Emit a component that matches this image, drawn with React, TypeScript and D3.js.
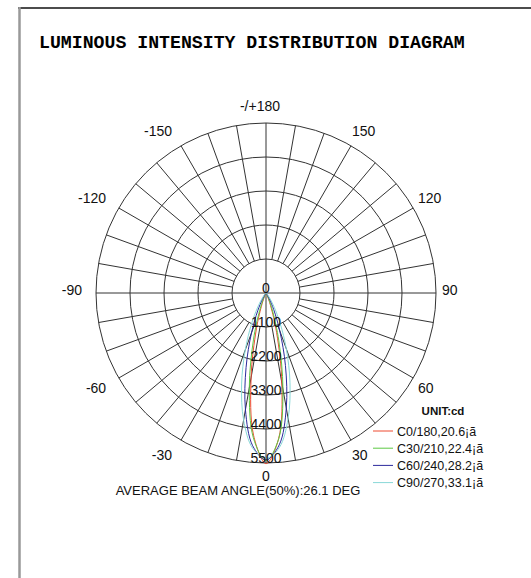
import React from 'react';
import * as d3 from 'd3';

// chart size
const width = 531;
const height = 578;
const cx = 266;
const cy = 293;
const outerR = 170;

// gamma angles (deg), negative = C180.. side (left), positive = C0.. side (right)
const gammas = [-50, -45, -40, -35, -30, -25, -20, -15, -10, -5, 0, 5, 10, 15, 20, 25, 30, 35, 40, 45, 50];

// candela values
const c0 = [0, 0, 0, 2, 12, 80, 370, 1200, 2780, 4620, 5520, 4720, 2950, 1330, 430, 100, 18, 3, 0, 0, 0];
const c30 = [0, 0, 2, 8, 40, 175, 600, 1570, 3110, 4700, 5430, 4730, 3150, 1600, 620, 185, 42, 8, 2, 0, 0];
const c60 = [0, 5, 22, 80, 245, 630, 1370, 2490, 3830, 4960, 5400, 4930, 3780, 2430, 1300, 590, 225, 72, 19, 4, 0];
const c90 = [12, 35, 100, 250, 560, 1120, 1960, 3050, 4170, 5030, 5350, 5010, 4120, 3000, 1920, 1080, 535, 235, 92, 30, 10];

const seriesNames = ['C0/180,20.6¡ã', 'C30/210,22.4¡ã', 'C60/240,28.2¡ã', 'C90/270,33.1¡ã'];
const seriesColors = ['#ee4a30', '#5cc843', '#2c2a9c', '#88d8d8'];
const seriesValues = [c0, c30, c60, c90];

const ringValues = [1100, 2200, 3300, 4400, 5500];
const angleLabels = [
  { deg: 0, text: '0' },
  { deg: 30, text: '30' },
  { deg: 60, text: '60' },
  { deg: 90, text: '90' },
  { deg: 120, text: '120' },
  { deg: 150, text: '150' },
  { deg: 180, text: '-/+180' },
  { deg: -150, text: '-150' },
  { deg: -120, text: '-120' },
  { deg: -90, text: '-90' },
  { deg: -60, text: '-60' },
  { deg: -30, text: '-30' },
];

const font = '"Liberation Sans", Arial, sans-serif';

export default function App() {
  const r = d3.scaleLinear().domain([0, 5500]).range([0, outerR]);
  const rad = (g: number) => (g * Math.PI) / 180;
  // gamma measured from straight down, positive to the right
  const px = (g: number, rr: number) => cx + rr * Math.sin(rad(g));
  const py = (g: number, rr: number) => cy + rr * Math.cos(rad(g));

  const spokes = d3.range(0, 360, 10);
  const innerR = r(1100);

  const lobe = d3
    .lineRadial<number>()
    .angle((_, i) => Math.PI - rad(gammas[i]))
    .radius((d) => r(d))
    .curve(d3.curveCatmullRom.alpha(0.5));

  // label placement: side labels anchored at their inner edge
  const labelPos = (g: number) => {
    const s = Math.sin(rad(g));
    const c = Math.cos(rad(g));
    let y = 290 + 184 * c;
    if (c > 0.1 && Math.abs(s) > 0.01) y += 6;
    if (g === 0) y += 2;
    if (Math.abs(s) < 0.01) {
      return { x: g === 0 ? cx : cx - 6, y, anchor: 'middle' };
    }
    return { x: 262 + 180 * s, y, anchor: s > 0 ? 'start' : 'end' };
  };

  return (
    <svg width={width} height={height} style={{ position: 'absolute', left: 0, top: 0, background: '#fff' }}>
      {/* frame */}
      <line x1={18} y1={8} x2={width} y2={8} stroke="#111" strokeWidth={1.5} />
      <line x1={19.5} y1={7} x2={19.5} y2={height} stroke="#999" strokeWidth={2.5} />

      <text x={39} y={48} fontFamily='"Liberation Mono", "Courier New", monospace' fontWeight="bold" fontSize={18.2}>
        LUMINOUS INTENSITY DISTRIBUTION DIAGRAM
      </text>

      {/* grid */}
      <g stroke="#333" strokeWidth={1} fill="none">
        {ringValues.map((v) => (
          <circle key={v} cx={cx} cy={cy} r={r(v)} />
        ))}
        {spokes.map((g) => {
          const through = g % 90 === 0;
          const r0 = through ? 0 : innerR;
          return <line key={g} x1={px(g, r0)} y1={py(g, r0)} x2={px(g, outerR)} y2={py(g, outerR)} />;
        })}
      </g>

      {/* curves */}
      <g transform={`translate(${cx},${cy})`} fill="none" strokeWidth={1}>
        {seriesValues.map((vals, i) => (
          <path key={i} d={lobe(vals) || ''} stroke={seriesColors[i]} />
        ))}
      </g>

      {/* intensity labels */}
      <g fontFamily={font} fontSize={14} textAnchor="middle" fill="#111">
        {[0, ...ringValues].map((v) => (
          <text key={v} x={cx} y={cy + r(v)}>
            {v}
          </text>
        ))}
      </g>

      {/* angle labels */}
      <g fontFamily={font} fontSize={14} fill="#111">
        {angleLabels.map((a) => {
          const p = labelPos(a.deg);
          return (
            <text key={a.deg} x={p.x} y={p.y} dy="0.35em" textAnchor={p.anchor}>
              {a.text}
            </text>
          );
        })}
      </g>

      <text x={238} y={495} fontFamily={font} fontSize={13} textAnchor="middle" fill="#111">
        AVERAGE BEAM ANGLE(50%):26.1 DEG
      </text>

      {/* legend */}
      <text x={443} y={415} fontFamily={font} fontSize={11.5} fontWeight="bold" textAnchor="middle" fill="#111">
        UNIT:cd
      </text>
      {seriesNames.map((name, i) => (
        <g key={name} transform={`translate(373,${431 + i * 17.2})`}>
          <line x1={0} y1={0} x2={20} y2={0} stroke={seriesColors[i]} strokeWidth={1} />
          <text x={24} y={4.5} fontFamily={font} fontSize={12.5} fill="#111">
            {name}
          </text>
        </g>
      ))}
    </svg>
  );
}
